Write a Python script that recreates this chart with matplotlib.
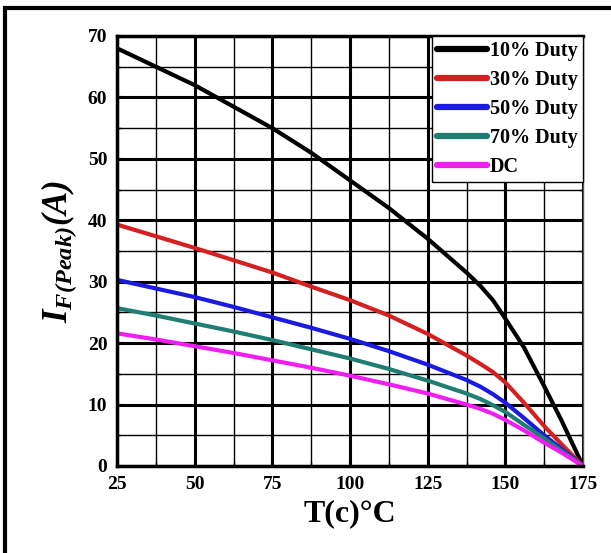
import matplotlib
matplotlib.use("Agg")
import matplotlib.pyplot as plt
from matplotlib.patches import Rectangle
from matplotlib.ticker import MultipleLocator

temps = [25, 37.5, 50, 62.5, 75, 87.5, 100, 112.5, 125, 137.5, 142, 146, 150, 156, 162.5, 168, 175]
duty10 = [68.0, 65.0, 62.0, 58.5, 55.0, 51.0, 46.5, 42.0, 37.0, 31.5, 29.3, 27.0, 24.0, 19.3, 13.0, 7.5, 0.0]
duty30 = [39.3, 37.4, 35.5, 33.5, 31.5, 29.2, 27.0, 24.5, 21.5, 18.0, 16.6, 15.3, 13.6, 10.3, 6.5, 3.6, 0.0]
duty50 = [30.3, 28.9, 27.5, 25.9, 24.2, 22.5, 20.7, 18.7, 16.5, 14.0, 12.9, 11.7, 10.3, 7.8, 5.0, 2.8, 0.0]
duty70 = [25.7, 24.5, 23.2, 21.9, 20.5, 19.0, 17.5, 15.8, 13.9, 11.8, 10.9, 9.9, 8.8, 6.7, 4.5, 2.5, 0.0]
dc = [21.6, 20.6, 19.5, 18.4, 17.2, 16.0, 14.7, 13.3, 11.8, 10.0, 9.3, 8.5, 7.5, 5.8, 3.8, 2.2, 0.0]

series = [
    ("10% Duty", duty10, "#000000"),
    ("30% Duty", duty30, "#d42020"),
    ("50% Duty", duty50, "#1a1ae0"),
    ("70% Duty", duty70, "#1f7d72"),
    ("DC", dc, "#f01ef0"),
]

xticks = [25, 50, 75, 100, 125, 150, 175]
yticks = [0, 10, 20, 30, 40, 50, 60, 70]

plt.rcParams['font.family'] = ['Liberation Serif', 'DejaVu Serif']
plt.rcParams['mathtext.fontset'] = 'custom'
plt.rcParams['mathtext.it'] = 'Liberation Serif:italic:bold'
plt.rcParams['mathtext.rm'] = 'Liberation Serif:italic:bold'

fig = plt.figure(figsize=(6.11, 5.53), dpi=100)
fig.patches.append(Rectangle((5/611, -0.1), 1.2, (1 - 8/553) + 0.1,
                             transform=fig.transFigure, fill=False,
                             edgecolor='black', linewidth=3))
ax = fig.add_axes([117/611, 1 - 466/553, (583 - 117)/611, (466 - 36)/553])

for label, vals, col in series:
    ax.plot(temps, vals, color=col, linewidth=3.0, label=label,
            solid_capstyle='round', solid_joinstyle='round')

ax.set_xlim(25, 175)
ax.set_ylim(0, 70)
ax.set_xticks(xticks)
ax.set_yticks(yticks)
ax.xaxis.set_minor_locator(MultipleLocator(12.5))
ax.yaxis.set_minor_locator(MultipleLocator(5))
ax.grid(which='major', color='black', linewidth=2.2)
ax.grid(which='minor', color='black', linewidth=1.0)
ax.set_axisbelow(True)

ax.tick_params(which='both', direction='in', top=False, right=True,
               labelsize=14, pad=7)
ax.tick_params(which='major', length=5, width=1.5)
ax.tick_params(which='minor', length=3, width=1.0)
for lab in ax.get_xticklabels() + ax.get_yticklabels():
    lab.set_fontweight('bold')

for s in ['left', 'bottom', 'top']:
    ax.spines[s].set_linewidth(2.5)
ax.spines['right'].set_linewidth(1.0)
ax.spines['right'].set_color('#555555')

ax.set_xlabel('T(c)°C', fontsize=23, fontweight='bold', labelpad=5)
ax.set_ylabel(r'$I_{F(Peak)}(A)$', fontsize=25, labelpad=6)

leg = ax.legend(loc='upper right', prop={'weight': 'bold', 'size': 14.5},
                frameon=True, fancybox=False, edgecolor='black',
                handlelength=2.5, handletextpad=0.15, borderpad=0.25,
                labelspacing=0.45, borderaxespad=0.0, framealpha=1)
leg.get_frame().set_linewidth(1.0)
for line in leg.get_lines():
    line.set_linewidth(4.5)

fig.savefig('out.png', dpi=100)
